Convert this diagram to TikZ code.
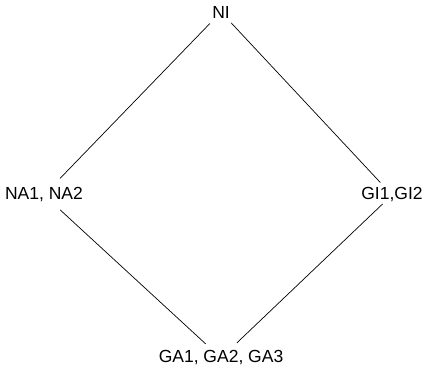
\documentclass[tikz,border=0pt]{standalone}
\usepackage{fontspec}
\setmainfont{Liberation Sans}
\begin{document}
\begin{tikzpicture}[x=1pt,y=1pt,
  lbl/.style={inner sep=0pt, font=\fontsize{17.5}{20}\selectfont},
  edge/.style={draw=black, line width=0.7pt}]
\useasboundingbox (0,0) rectangle (427,374);
\node[lbl] (ni) at (221,362) {NI};
\node[lbl] (na) at (44,179) {NA1, NA2};
\node[lbl] (gi) at (392,179) {GI1,GI2};
\node[lbl] (ga) at (221,16) {GA1, GA2, GA3};
\draw[edge, shorten <=16pt, shorten >=23pt] (ni.center) -- (na.center);
\draw[edge, shorten <=15pt, shorten >=17pt] (ni.center) -- (gi.center);
\draw[edge, shorten <=22pt, shorten >=21pt] (na.center) -- (ga.center);
\draw[edge, shorten <=13pt, shorten >=22pt] (gi.center) -- (ga.center);
\end{tikzpicture}
\end{document}
